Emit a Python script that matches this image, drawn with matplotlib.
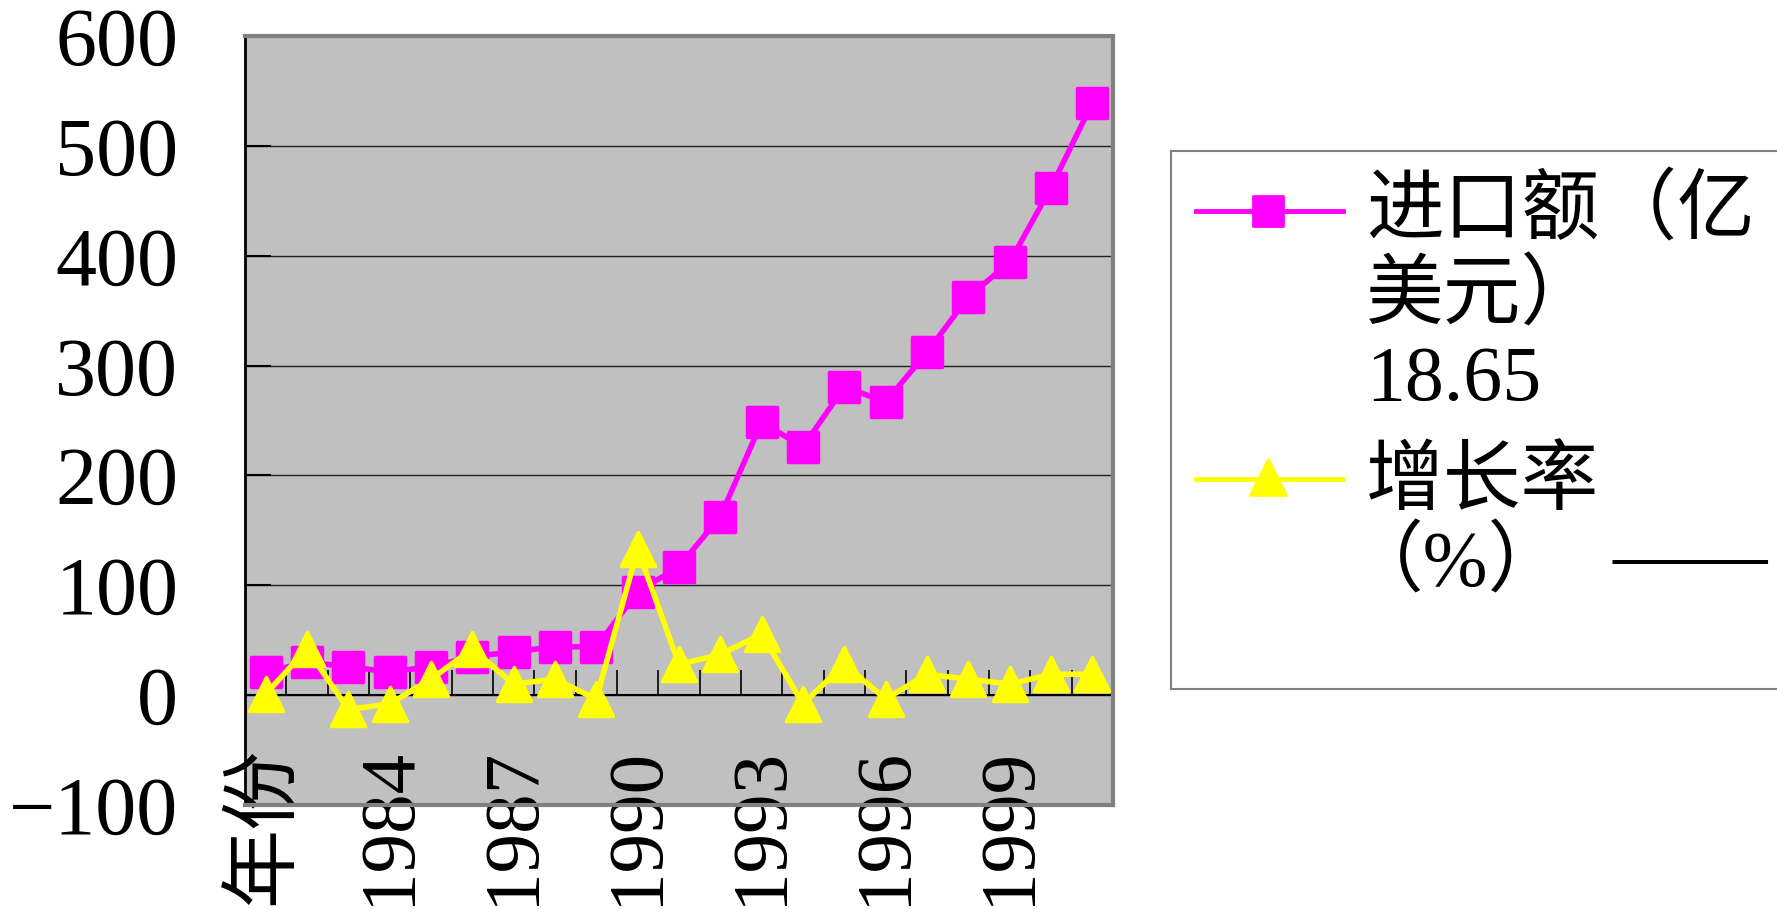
import numpy as np
import matplotlib
matplotlib.use('Agg')
import matplotlib.pyplot as plt
from matplotlib.markers import MarkerStyle

plt.rcParams['font.family'] = ['Liberation Serif', 'Noto Sans CJK SC']

# categories: header cell followed by the years
years = ['年份'] + [str(y) for y in range(1982, 2002)]
imports = [21, 30, 26, 21, 26, 35, 39.5, 44, 44, 94, 117, 162.5, 248.5,
           226, 280.5, 267, 312, 362.5, 394, 462, 539]
growth = [1, 42, -13, -8, 14.6, 42, 10, 14.6, -3.6, 133, 28, 37, 55.6,
          -8, 28, -3.6, 19, 14.6, 10, 19, 19]
legend_import = ['进口额（亿', '美元）', '18.65']
legend_growth = ['增长率', '（%）']

W, H = 1777, 909
PINK = '#FF00FF'
YELLOW = '#FFFF00'
sq = MarkerStyle('s', joinstyle='round')
tri = MarkerStyle('^', joinstyle='round')

fig = plt.figure(figsize=(W / 100, H / 100), dpi=100)
ax = fig.add_axes([245 / W, 1 - 805 / H, 868 / W, 769 / H])
ax.set_facecolor('#C0C0C0')

x = np.arange(len(years))
ax.plot(x, imports, color=PINK, lw=4, marker=sq, ms=21, mew=2.5, mec=PINK, zorder=3)
ax.plot(x, growth, color=YELLOW, lw=4, marker=tri, ms=25, mew=2.5, mec=YELLOW, zorder=4)

ax.set_xlim(-0.5, len(x) - 0.5)
ax.set_ylim(-100, 600)
ax.set_yticks(range(-100, 601, 100))
ax.grid(axis='y', color='#202020', lw=1)
ax.set_axisbelow(True)
ax.axhline(0, color='black', lw=1.5, zorder=2)
# category separators sitting on the zero line
ax.vlines(x[:-1] + 0.5, 0, 23, color='black', lw=1.2, zorder=2)

ax.set_xticks(x[::3])
ax.set_xticklabels(years[::3], rotation=90)
ax.tick_params(axis='x', length=0, pad=-42, labelsize=57)
ax.tick_params(axis='y', direction='in', length=19, width=1.5, pad=48, labelsize=59)

for s in ['top', 'right', 'bottom']:
    ax.spines[s].set_color('#808080')
    ax.spines[s].set_linewidth(3)
ax.spines['left'].set_color('black')
ax.spines['left'].set_linewidth(2)

# legend box, runs off the right edge
lax = fig.add_axes([1171 / W, 1 - 689 / H, (1800 - 1171) / W, (689 - 151) / H])
lax.set_xlim(1171, 1800)
lax.set_ylim(689, 151)
lax.set_xticks([])
lax.set_yticks([])
for s in lax.spines.values():
    s.set_color('#808080')
    s.set_linewidth(1.5)

lax.plot([1196, 1343], [211, 211], color=PINK, lw=3.5)
lax.plot([1268], [211], marker=sq, ms=21, mew=2, color=PINK)
lax.plot([1196, 1343], [479, 479], color=YELLOW, lw=3.5)
lax.plot([1268], [477], marker=tri, ms=26, mew=2, color=YELLOW)

for y, t in zip([214, 299, 381], legend_import):
    lax.text(1366, y, t, va='center', ha='left', fontsize=56)
lax.text(1366, 485, legend_growth[0], va='center', ha='left', fontsize=56)
lax.text(1346, 566, legend_growth[1], va='center', ha='left', fontsize=56)
lax.text(1612, 561, '——', va='center', ha='left', fontsize=56)

fig.savefig('out.png', dpi=100)
